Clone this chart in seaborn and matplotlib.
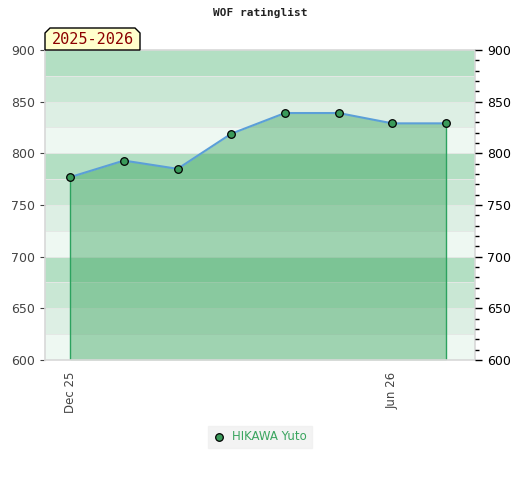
import matplotlib
matplotlib.use("Agg")
import matplotlib.pyplot as plt
import seaborn as sns
import pandas as pd
from matplotlib.patches import Polygon

# data
months = ["Dec 25", "Jan 26", "Feb 26", "Mar 26", "Apr 26", "May 26", "Jun 26", "Jul 26"]
ratings = [777, 793, 785, 819, 839, 839, 829, 829]
player = "HIKAWA Yuto"
tick_months = ["Dec 25", "Jun 26"]

df = pd.DataFrame({"idx": range(len(months)), "month": months, "rating": ratings})

sns.set_style("white")
plt.rcParams["font.family"] = ["DejaVu Sans"]

fig = plt.figure(figsize=(5.2, 4.8), dpi=100)
ax = fig.add_axes([45 / 520, 120 / 480, 430 / 520, 310 / 480])

# striped background bands
band_cols = ["#eef8f2", "#ddefe4", "#c9e7d4", "#b3dfc3"]
for lo in range(600, 900, 25):
    ax.axhspan(lo, lo + 25, color=band_cols[(lo // 25) % 4], lw=0, zorder=0)
    ax.axhline(lo, color="#e4e8e5", lw=0.7, zorder=0.5)

# filled area and edges
ax.fill_between(df["idx"], df["rating"], 600, color="#2a9c50", alpha=0.4, lw=0, zorder=1)
ax.vlines([df["idx"].iloc[0], df["idx"].iloc[-1]], 600, [ratings[0], ratings[-1]],
          color="#2ca25f", lw=1, zorder=2)

sns.lineplot(data=df, x="idx", y="rating", ax=ax, color="#5b9fd8", lw=1.5,
             zorder=3, legend=False)
sns.scatterplot(data=df, x="idx", y="rating", ax=ax, color="#3a9a5a", edgecolor="black",
                linewidth=0.9, s=30, zorder=4, label=player, legend=False)

ax.set_xlim(-0.47, 7.54)
ax.set_ylim(600, 900)
ax.set_xlabel("")
ax.set_ylabel("")
ax.set_xticks([months.index(m) for m in tick_months])
ax.set_xticklabels(tick_months, rotation=90, fontsize=8.5, color="#444444")
ax.set_yticks(range(600, 901, 50))
ax.tick_params(axis="y", left=False, labelleft=True, labelsize=9, colors="#444444")
ax.tick_params(axis="x", bottom=False, pad=5)
for s in ax.spines.values():
    s.set_color("#d8d8d8")
    s.set_linewidth(1.2)

# right axis with minor ticks
axr = ax.twinx()
axr.set_ylim(600, 900)
axr.set_yticks(range(600, 901, 50))
axr.set_yticks(range(600, 901, 10), minor=True)
axr.tick_params(axis="y", which="major", length=5, width=1, colors="black",
                labelsize=9, direction="out")
axr.tick_params(axis="y", which="minor", length=3, width=1, color="black", direction="out")
for s in axr.spines.values():
    s.set_visible(False)

fig.text(260 / 520, 1 - 13 / 480, "WOF ratinglist", ha="center", va="center",
         fontsize=8, fontweight="bold", family="DejaVu Sans Mono", color="#222222")

# season label box with chamfered top corners
pts = [(45, 50), (45, 33), (50, 28), (135, 28), (140, 33), (140, 50)]
poly = Polygon([(x / 520, 1 - y / 480) for x, y in pts], closed=True,
               transform=fig.transFigure, facecolor="#ffffcc", edgecolor="black", lw=1)
fig.patches.append(poly)
fig.text(92.5 / 520, 1 - 40 / 480, "2025-2026", ha="center", va="center",
         fontsize=11, family="DejaVu Sans Mono", color="#8b0000")

leg = fig.legend(handles=ax.collections[-1:], labels=[player], loc="center",
                 bbox_to_anchor=(260 / 520, 1 - 437 / 480), frameon=True, fontsize=8.5,
                 handletextpad=0.6, handlelength=1.0, borderpad=0.4, fancybox=False)
leg.get_frame().set_facecolor("#f0f0f0")
leg.get_frame().set_edgecolor("#f0f0f0")
for t in leg.get_texts():
    t.set_color("#3aa55f")

fig.savefig("out.png", dpi=100)
